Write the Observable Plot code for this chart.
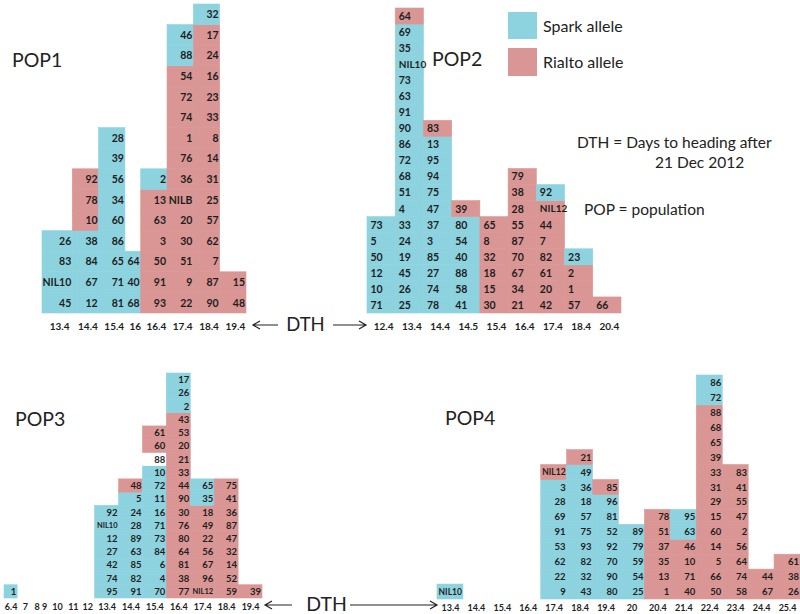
<!DOCTYPE html>
<html><head><meta charset="utf-8">
<script src="https://cdn.jsdelivr.net/npm/d3@7"></script>
<script src="https://cdn.jsdelivr.net/npm/@observablehq/plot@0.6"></script>
<style>
body{margin:0;background:#fff;}
#wrap{position:relative;width:800px;height:614px;overflow:hidden;font-family:Lato,sans-serif;}
#wrap svg.plot{position:absolute;}
#overlay{position:absolute;left:0;top:0;pointer-events:none;}
</style></head><body><div id="wrap"></div>
<script>
const SPARK = "#8dd3df", RIALTO = "#d99694";

// ---- POP1 (cells listed bottom to top; S = Spark allele, R = Rialto allele) ----
const pop1Cols = ["13.4","14.4","15.4","16","16.4","17.4","18.4","19.4"];
const pop1Ids = [
  ["45","NIL10","83","26"],
  ["12","67","84","38","10","78","92"],
  ["81","71","65","86","60","34","56","39","28"],
  ["68","40","64"],
  ["93","91","50","3","63","13","2"],
  ["22","9","51","30","20","NILB","36","76","1","74","72","54","88","46"],
  ["90","87","7","62","57","25","31","14","8","33","23","16","24","17","32"],
  ["48","15"]
];
const pop1Alleles = ["SSSS","SSSSRRR","SSSSSSSSS","SSS","RRRRRRS","RRRRRRRRRRRRSS","RRRRRRRRRRRRRRS","RR"];

// ---- POP2 ----
const pop2Cols = ["12.4","13.4","14.4","14.5","15.4","16.4","17.4","18.4","20.4"];
const pop2Ids = [
  ["71","10","12","50","5","73"],
  ["25","26","45","19","24","33","4","51","68","72","86","90","91","63","73","NIL10","35","69","64"],
  ["78","74","27","85","3","37","47","75","94","95","13","83"],
  ["41","58","88","40","54","80","39"],
  ["30","15","18","32","8","65"],
  ["21","34","67","70","87","55","28","38","79"],
  ["42","20","61","82","7","44","NIL12","92"],
  ["57","1","2","23"],
  ["66"]
];
const pop2Alleles = ["SSSSSS","SSSSSSSSSSSSSSSSSSR","SSSSSSSSSSSR","SSSSSSR","RRRRRR","RRRRRRRRR","RRRRRRRS","RRRS","R"];

// ---- POP3 (N = no colour) ----
const pop3Cols = ["6.4","7","8","9","10","11","12","13.4","14.4","15.4","16.4","17.4","18.4","19.4"];
const pop3Ids = [
  ["1"],[],[],[],[],[],[],
  ["95","74","42","27","12","NIL10","92"],
  ["91","82","85","63","89","28","24","5","48"],
  ["70","4","6","84","73","71","16","11","72","10","88","60","61"],
  ["77","38","81","64","80","76","30","90","44","33","21","20","53","43","2","26","17"],
  ["NIL12","96","67","56","22","49","18","35","65"],
  ["59","52","14","32","47","87","36","41","75"],
  ["39"]
];
const pop3Alleles = ["S","","","","","","","SSSSSSS","SSSSSSSSR","SSSSSSSSSSNRR","RRRRRRRRRRRRRRSSS","RRRRRRRSS","RRRRRRRRR","R"];

// ---- POP4 ----
const pop4Cols = ["13.4","14.4","15.4","16.4","17.4","18.4","19.4","20","20.4","21.4","22.4","23.4","24.4","25.4"];
const pop4Ids = [
  ["NIL10"],[],[],[],
  ["9","22","62","53","91","69","28","3","NIL12"],
  ["43","32","82","93","75","57","18","36","49","21"],
  ["80","90","70","92","52","81","96","85"],
  ["25","54","59","79","89"],
  ["1","13","35","37","51","78"],
  ["40","71","10","46","63","95"],
  ["50","66","5","14","60","15","29","31","33","39","65","68","88","72","86"],
  ["58","74","64","56","2","47","55","41","83"],
  ["67","44"],
  ["26","38","61"]
];
const pop4Alleles = ["S","","","","SSSSSSSSR","SSSSSSSSSR","SSSSSSSR","SSSSS","RRRRRR","RRRRSS","RRRRRRRRRRRRRSS","RRRRRRRRR","RR","RRR"];

function panel(cfg) {
  const {cols, ids, alleles, weights = {}, rows, width, height, ml, mr, mt, mb, align, fs, nfs = fs, tfs, tdy, tdx = 0, left, top} = cfg;
  let acc = 0;
  const slots = cols.map(c => {
    const w = weights[c] ?? 1;
    const s = {col: c, x1: acc, x2: acc + w, xm: acc + w / 2};
    acc += w;
    return s;
  });
  const cells = [];
  ids.forEach((col, i) => col.forEach((id, j) => cells.push({
    id, allele: alleles[i][j], x1: slots[i].x1, x2: slots[i].x2, y1: j, y2: j + 1, ym: j + 0.5
  })));
  const left_ = align === "left";
  const svg = Plot.plot({
    width, height, marginLeft: ml, marginRight: mr, marginTop: mt, marginBottom: mb,
    x: {domain: [0, acc], axis: null},
    y: {domain: [0, rows], axis: null},
    color: {domain: ["S", "R", "N"], range: [SPARK, RIALTO, "#ffffff"]},
    style: {fontFamily: "Lato, sans-serif", background: "transparent", overflow: "visible"},
    marks: [
      Plot.rect(cells, {x1: "x1", x2: "x2", y1: "y1", y2: "y2", fill: "allele", stroke: "allele", strokeWidth: 0.6}),
      Plot.text(cells, {x: left_ ? "x1" : "x2", y: "ym", text: "id", textAnchor: left_ ? "start" : "end",
        dx: left_ ? 3 : -1.5, fontSize: d => d.id.startsWith("NIL") ? nfs : fs, fontWeight: "bold", fill: "#1e1e1e"}),
      Plot.text(slots, {x: "xm", y: () => 0, text: "col", dy: tdy, dx: tdx, fontSize: tfs, fontWeight: "bold", fill: "#1e1e1e"})
    ]
  });
  svg.classList.add("plot");
  svg.style.left = left + "px";
  svg.style.top = top + "px";
  return svg;
}

const wrap = document.getElementById("wrap");
wrap.append(panel({cols: pop1Cols, ids: pop1Ids, alleles: pop1Alleles, weights: {"13.4": 1.15, "16": 0.6},
  rows: 15, width: 270, height: 340, ml: 42, mr: 24, mt: 4, mb: 27, align: "right", fs: 10.5, tfs: 10, tdy: 13, tdx: 2, left: 0, top: 0}));
wrap.append(panel({cols: pop2Cols, ids: pop2Ids, alleles: pop2Alleles,
  rows: 19, width: 300, height: 340, ml: 27, mr: 19, mt: 8, mb: 27, align: "left", fs: 10.5, nfs: 10, tfs: 10, tdy: 13, tdx: 2, left: 340, top: 0}));
wrap.append(panel({cols: pop3Cols, ids: pop3Ids, alleles: pop3Alleles,
  weights: {"6.4": 0.55, "7": 0.65, "8": 0.32, "9": 0.32, "10": 0.75, "11": 0.58, "12": 0.62},
  rows: 17, width: 280, height: 264, ml: 4, mr: 18, mt: 23, mb: 16, align: "right", fs: 9.5, nfs: 7.5, tfs: 9, tdy: 9, left: 0, top: 350}));
wrap.append(panel({cols: pop4Cols, ids: pop4Ids, alleles: pop4Alleles,
  rows: 15, width: 380, height: 264, ml: 17, mr: 0, mt: 25, mb: 15, align: "right", fs: 9.5, nfs: 8.5, tfs: 9, tdy: 9, left: 420, top: 350}));

// annotations
const ov = d3.select(wrap).append("svg").attr("id", "overlay").attr("width", 800).attr("height", 614)
  .style("font-family", "Lato, sans-serif").attr("fill", "#222");
[["POP1", 12, 67], ["POP2", 432, 66], ["POP3", 15, 426], ["POP4", 445, 425]].forEach(([t, x, y]) =>
  ov.append("text").attr("x", x).attr("y", y).attr("font-size", 19.5).text(t));
ov.append("rect").attr("x", 508).attr("y", 12).attr("width", 29).attr("height", 27).attr("fill", SPARK);
ov.append("rect").attr("x", 508).attr("y", 48).attr("width", 29).attr("height", 28).attr("fill", RIALTO);
ov.append("text").attr("x", 543).attr("y", 32).attr("font-size", 16).text("Spark allele");
ov.append("text").attr("x", 543).attr("y", 68).attr("font-size", 16).text("Rialto allele");
ov.append("text").attr("x", 577).attr("y", 148).attr("font-size", 15.5).text("DTH = Days to heading after");
ov.append("text").attr("x", 655).attr("y", 168).attr("font-size", 15.5).text("21 Dec 2012");
ov.append("text").attr("x", 584).attr("y", 215).attr("font-size", 15.5).text("POP = population");
ov.append("text").attr("x", 305.5).attr("y", 331).attr("font-size", 18.5).attr("text-anchor", "middle").text("DTH");
ov.append("text").attr("x", 326.5).attr("y", 611).attr("font-size", 19.5).attr("text-anchor", "middle").text("DTH");
function arrow(x1, x2, y) {
  const dir = x2 > x1 ? 1 : -1;
  ov.append("path").attr("d", `M${x1},${y}L${x2},${y}M${x2 - dir * 7},${y - 4}L${x2},${y}L${x2 - dir * 7},${y + 4}`)
    .attr("fill", "none").attr("stroke", "#222").attr("stroke-width", 1.2);
}
arrow(278, 253, 325); arrow(333, 366, 325);
arrow(292, 265, 605); arrow(350, 437, 605);
</script></body></html>
